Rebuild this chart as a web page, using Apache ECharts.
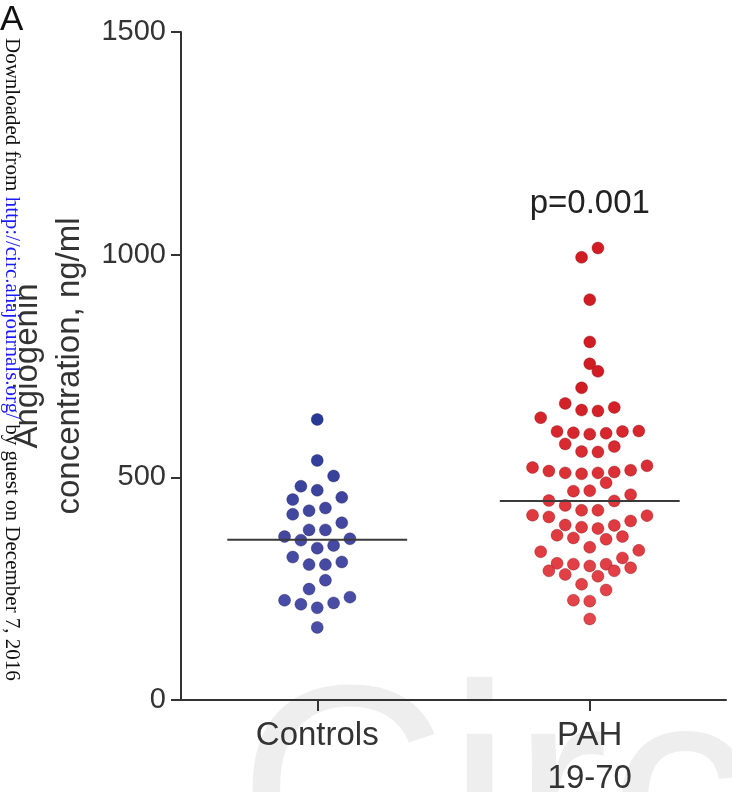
<!DOCTYPE html>
<html>
<head>
<meta charset="utf-8">
<script src="https://cdn.jsdelivr.net/npm/echarts@6.0.0/dist/echarts.min.js"></script>
<style>
  html, body { margin: 0; padding: 0; background: #fff; }
  #chart { width: 732px; height: 792px; }
</style>
</head>
<body>
<div id="chart"></div>
<script>
// ---- data ----
const categories = ['Controls', 'PAH\n19-70'];
const yMin = 0, yMax = 1500, yInterval = 500;

// beeswarm slot (column index) and value for each point
const controlsSlots  = [0, 0, 2, -2, 0, -3, 3, -3, -1, 1, 3, -1, 1, -4, -2, 4, 0, 2, -3, -1, 1, 3, 1, -1, -4, -2, 0, 2, 4, 0];
const controlsValues = [630, 538, 503, 480, 471, 450, 455, 417, 425, 431, 398, 382, 382, 367, 359, 362, 341, 347, 321, 304, 304, 310, 269, 249, 224, 215, 207, 218, 231, 163];

const pahSlots  = [1, -1, 0, 0, 0, 1, -1, -3, -1, 1, 3, -6, -4, -2, 0, 2, 4, 6, -3, -1, 1, 3,
                   -7, -5, -3, -1, 1, 3, 5, 7, 2, -2, 0, -5, -3, 3, 5, -1, 1, -7, -5, 7, 5,
                   -3, -1, 1, 3, -4, -2, 2, 4, 0, -6, 6, 4, -4, -2, 0, 2, -5, -3, 3, 5, 1, -1, 2, -2, 0, 0];
const pahValues = [1015, 994, 899, 804, 755, 738, 701, 666, 651, 649, 657, 634, 603, 600, 597, 599, 603, 604, 575, 558, 557, 569,
                   522, 514, 510, 508, 510, 512, 516, 526, 488, 469, 470, 448, 437, 447, 461, 426, 426, 415, 411, 414, 402,
                   393, 388, 385, 392, 370, 364, 361, 367, 343, 333, 336, 319, 307, 305, 301, 305, 290, 282, 290, 297, 278, 260, 247, 224, 222, 182];

const meanValues = [360, 447];
const pValueLabel = 'p=0.001';
const yAxisTitle = 'Angiogenin\nconcentration, ng/ml';
const panelLetter = 'A';

// ---- build ----
const SLOT_STEP = 0.03;
const HALF_LINE = 0.33;
function points(groupIndex, slots, values) {
  const c = groupIndex + 1;
  return values.map((v, i) => [c + slots[i] * SLOT_STEP, v]);
}
function meanLine(groupIndex) {
  const c = groupIndex + 1;
  return [[c - HALF_LINE, meanValues[groupIndex]], [c + HALF_LINE, meanValues[groupIndex]]];
}

const chart = echarts.init(document.getElementById('chart'), null, { renderer: 'canvas' });
const font = 'Liberation Sans';
const axisColor = '#333333';

chart.setOption({
  backgroundColor: '#ffffff',
  animation: false,
  textStyle: { fontFamily: font },
  grid: { left: 181, right: 6, top: 32, bottom: 92, containLabel: false, outerBoundsMode: 'none' },
  visualMap: [
    { type: 'continuous', show: false, seriesIndex: 0, dimension: 1, min: 180, max: 640,
      inRange: { color: ['#4a4ea6', '#4347a0', '#283994'] } },
    { type: 'continuous', show: false, seriesIndex: 1, dimension: 1, min: 200, max: 700,
      inRange: { color: ['#e3464b', '#de363c', '#d21c24'] } }
  ],
  xAxis: [
    {
      type: 'category',
      data: categories,
      boundaryGap: true,
      axisLine: { show: true, lineStyle: { color: axisColor, width: 2 } },
      axisTick: { show: true, alignWithLabel: true, length: 11, lineStyle: { color: axisColor, width: 2 } },
      axisLabel: { color: axisColor, fontSize: 33, lineHeight: 43, margin: 14, fontFamily: font },
      splitLine: { show: false }
    },
    {
      type: 'value', min: 0.5, max: 2.5, show: false,
      axisLine: { show: false }, splitLine: { show: false }
    }
  ],
  yAxis: {
    type: 'value',
    min: yMin, max: yMax, interval: yInterval,
    name: yAxisTitle,
    nameLocation: 'middle',
    nameRotate: 90,
    nameGap: 86,
    nameTextStyle: { fontSize: 33, lineHeight: 42, color: axisColor, fontFamily: font },
    axisLine: { show: true, lineStyle: { color: axisColor, width: 2 } },
    axisTick: { show: true, length: 10, lineStyle: { color: axisColor, width: 2 } },
    axisLabel: { color: axisColor, fontSize: 29, margin: 15, fontFamily: font, formatter: (v) => String(v) },
    splitLine: { show: false }
  },
  series: [
    {
      type: 'scatter', xAxisIndex: 1, yAxisIndex: 0,
      symbolSize: 12,
      itemStyle: { borderColor: 'rgba(20,20,80,0.35)', borderWidth: 1, opacity: 1 },
      data: points(0, controlsSlots, controlsValues), z: 3
    },
    {
      type: 'scatter', xAxisIndex: 1, yAxisIndex: 0,
      symbolSize: 12,
      itemStyle: { borderColor: 'rgba(120,10,15,0.35)', borderWidth: 1, opacity: 1 },
      data: points(1, pahSlots, pahValues), z: 3
    },
    {
      type: 'line', xAxisIndex: 1, yAxisIndex: 0, symbol: 'none',
      lineStyle: { color: '#3a3a3a', width: 2 }, data: meanLine(0), z: 5, silent: true
    },
    {
      type: 'line', xAxisIndex: 1, yAxisIndex: 0, symbol: 'none',
      lineStyle: { color: '#3a3a3a', width: 2 }, data: meanLine(1), z: 5, silent: true
    }
  ]
});

const pPos = chart.convertToPixel({ xAxisIndex: 1, yAxisIndex: 0 }, [2, 1113]);

chart.setOption({
  graphic: [
    {
      type: 'text', z: -10, silent: true,
      x: 238, y: 662,
      style: { text: 'Circ', fontSize: 290, fontFamily: font, fill: '#eeeeee', textAlign: 'left', textVerticalAlign: 'top' }
    },
    {
      type: 'text', silent: true, x: pPos[0], y: pPos[1],
      style: { text: pValueLabel, fontSize: 33, fontFamily: font, fill: '#222222', textAlign: 'center', textVerticalAlign: 'middle' }
    },
    {
      type: 'text', silent: true, x: 0, y: 3,
      style: { text: panelLetter, fontSize: 35, fontFamily: font, fill: '#111111', textAlign: 'left', textVerticalAlign: 'top' }
    },
    {
      type: 'text', silent: true, x: 12, y: 38, rotation: -Math.PI / 2,
      style: {
        text: 'Downloaded from {a|http://circ.ahajournals.org/} by guest on December 7, 2016',
        fontSize: 21, fontFamily: 'Liberation Serif', fill: '#111111',
        textAlign: 'left', textVerticalAlign: 'middle',
        rich: { a: { fontSize: 21, fontFamily: 'Liberation Serif', fill: '#1a1aff', color: '#1a1aff' } }
      }
    }
  ]
});
</script>
</body>
</html>
